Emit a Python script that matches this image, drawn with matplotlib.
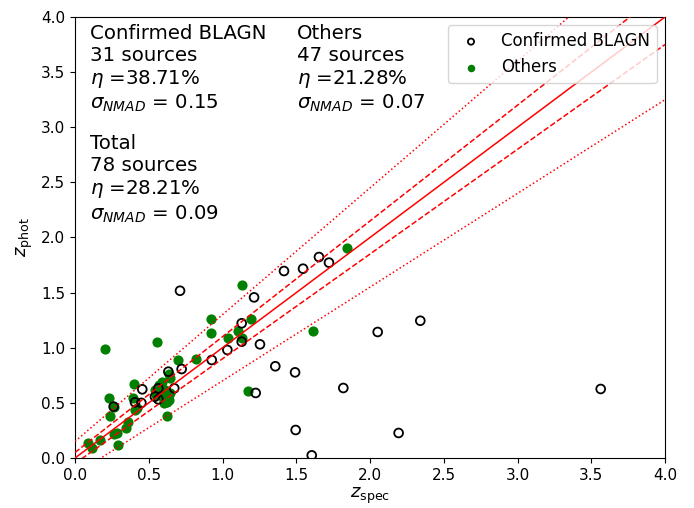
import matplotlib
matplotlib.use("Agg")
import matplotlib.pyplot as plt
import numpy as np

# Confirmed BLAGN (open circles)
blagn_zspec = [0.712, 1.214, 1.417, 1.546, 1.654, 1.722, 1.130, 1.130, 1.254, 1.033,
               0.927, 0.723, 0.633, 0.456, 0.565, 0.673, 0.542, 0.565, 0.407, 0.450,
               0.262, 1.225, 1.358, 1.492, 1.819, 2.052, 2.341, 3.564, 1.496, 2.194,
               1.605]
blagn_zphot = [1.517, 1.457, 1.696, 1.717, 1.823, 1.772, 1.222, 1.055, 1.031, 0.980,
               0.889, 0.807, 0.783, 0.623, 0.632, 0.632, 0.556, 0.532, 0.505, 0.500,
               0.466, 0.590, 0.832, 0.777, 0.635, 1.143, 1.245, 0.626, 0.254, 0.227,
               0.024]

# Others (filled green)
other_zspec = [0.203, 0.558, 0.922, 1.193, 0.922, 1.107, 1.039, 1.130, 1.132, 1.842,
               1.611, 1.171, 0.820, 0.697, 0.588, 0.644, 0.402, 0.542, 0.599, 0.621,
               0.644, 0.621, 0.233, 0.396, 0.262, 0.407, 0.237, 0.362, 0.343, 0.282,
               0.262, 0.294, 0.169, 0.090, 0.113, 0.560, 0.580, 0.600, 0.630, 0.610,
               0.550, 0.640, 0.620, 0.570, 0.640, 0.600, 0.420]
other_zphot = [0.989, 1.055, 1.261, 1.261, 1.131, 1.155, 1.091, 1.085, 1.569, 1.902,
               1.155, 0.608, 0.895, 0.887, 0.692, 0.723, 0.674, 0.617, 0.556, 0.511,
               0.586, 0.380, 0.547, 0.541, 0.466, 0.435, 0.381, 0.330, 0.269, 0.229,
               0.220, 0.118, 0.163, 0.133, 0.088, 0.600, 0.640, 0.520, 0.550, 0.620,
               0.570, 0.530, 0.580, 0.660, 0.760, 0.500, 0.450]

text_blagn = "Confirmed BLAGN\n31 sources\n$\\eta$ =38.71%\n$\\sigma_{NMAD}$ = 0.15"
text_others = "Others\n47 sources\n$\\eta$ =21.28%\n$\\sigma_{NMAD}$ = 0.07"
text_total = "Total\n78 sources\n$\\eta$ =28.21%\n$\\sigma_{NMAD}$ = 0.09"

fig = plt.figure(figsize=(6.94, 5.08), dpi=100)
ax = fig.add_axes([75 / 694, 1 - 458 / 508, 590 / 694, 441 / 508])

ax.scatter(blagn_zspec, blagn_zphot, s=40, facecolors='none', edgecolors='black',
           linewidths=1.3, label='Confirmed BLAGN', zorder=3)
ax.scatter(other_zspec, other_zphot, s=40, color='green', label='Others', zorder=2)

x = np.linspace(0, 4, 100)
ax.plot(x, x, color='red', lw=1.1, zorder=4)
ax.plot(x, x + 0.05 * (1 + x), color='red', ls='--', lw=1.1, zorder=4)
ax.plot(x, x - 0.05 * (1 + x), color='red', ls='--', lw=1.1, zorder=4)
ax.plot(x, x + 0.15 * (1 + x), color='red', ls=':', lw=1.1, zorder=4)
ax.plot(x, x - 0.15 * (1 + x), color='red', ls=':', lw=1.1, zorder=4)

ax.set_xlim(0, 4)
ax.set_ylim(0, 4)
ax.set_xlabel('$z_{\\rm spec}$', fontsize=13, labelpad=2)
ax.set_ylabel('$z_{\\rm phot}$', fontsize=13)
ax.tick_params(labelsize=11)

ax.text(0.025, 0.985, text_blagn, transform=ax.transAxes, va='top', fontsize=14.2)
ax.text(0.376, 0.985, text_others, transform=ax.transAxes, va='top', fontsize=14.2)
ax.text(0.025, 0.735, text_total, transform=ax.transAxes, va='top', fontsize=14.2)

ax.legend(loc='upper right', fontsize=12, markerscale=0.7)

fig.savefig('out.png')
